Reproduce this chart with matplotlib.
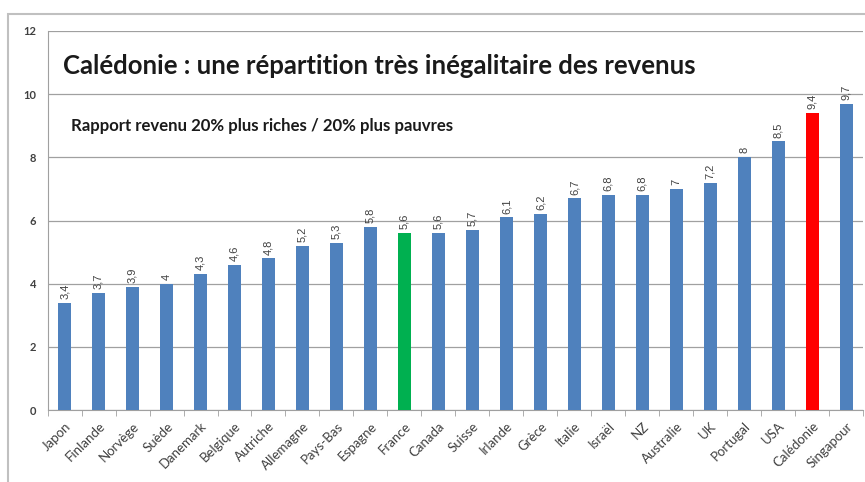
import matplotlib.pyplot as plt
import numpy as np
from matplotlib.patches import Rectangle

pays = ["Japon", "Finlande", "Norvège", "Suède", "Danemark", "Belgique", "Autriche",
        "Allemagne", "Pays-Bas", "Espagne", "France", "Canada", "Suisse", "Irlande",
        "Grèce", "Italie", "Israël", "NZ", "Australie", "UK", "Portugal", "USA",
        "Calédonie", "Singapour"]
valeurs = [3.4, 3.7, 3.9, 4, 4.3, 4.6, 4.8, 5.2, 5.3, 5.8, 5.6, 5.6, 5.7, 6.1,
           6.2, 6.7, 6.8, 6.8, 7, 7.2, 8, 8.5, 9.4, 9.7]
etiquettes = ["3,4", "3,7", "3,9", "4", "4,3", "4,6", "4,8", "5,2", "5,3", "5,8", "5,6",
              "5,6", "5,7", "6,1", "6,2", "6,7", "6,8", "6,8", "7", "7,2", "8", "8,5",
              "9,4", "9,7"]

couleurs = []
for p in pays:
    if p == "France":
        couleurs.append("#00B050")
    elif p == "Calédonie":
        couleurs.append("#FF0000")
    else:
        couleurs.append("#4F81BD")

plt.rcParams['font.family'] = ['Lato', 'DejaVu Sans']

fig = plt.figure(figsize=(8.65, 4.82), dpi=100)
ax = fig.add_axes([0.055, 0.149, 0.943, 0.787])

x = np.arange(len(pays))
ax.bar(x, valeurs, width=0.38, color=couleurs, zorder=3)

for xi, v, t in zip(x, valeurs, etiquettes):
    ax.text(xi, v + 0.12, t, rotation=90, ha="center", va="bottom",
            fontsize=8, color="#404040", family="Liberation Sans")

ax.set_ylim(0, 12)
ax.set_xlim(-0.5, len(pays) - 0.5)
ax.set_yticks(range(0, 13, 2))
ax.yaxis.grid(True, color="#A0A0A0", linewidth=0.9, zorder=0)
ax.tick_params(axis="y", length=0, labelsize=8, labelcolor="#404040", pad=8)
for lbl in ax.get_yticklabels():
    lbl.set_fontweight("bold")

ax.set_xticks(x)
ax.set_xticklabels(pays, rotation=45, ha="right", rotation_mode="anchor",
                   fontsize=9.5, color="#404040")
ax.tick_params(axis="x", which="major", length=0, pad=7)
ax.set_xticks(np.arange(-0.5, len(pays), 1), minor=True)
ax.tick_params(axis="x", which="minor", length=4, color="#A0A0A0")

for s in ["top", "right"]:
    ax.spines[s].set_visible(False)
ax.spines["left"].set_color("#A0A0A0")
ax.spines["bottom"].set_color("#A0A0A0")

ax.text(0.019, 0.885, "Calédonie : une répartition très inégalitaire des revenus",
        transform=ax.transAxes, fontsize=18.5, fontweight="bold", color="#1a1a1a")
ax.text(0.029, 0.735, "Rapport revenu 20% plus riches / 20% plus pauvres",
        transform=ax.transAxes, fontsize=12.1, fontweight="bold", color="#1a1a1a")

fig.patches.append(Rectangle((8 / 865, -0.05), 1.0, (482 - 14) / 482 + 0.05,
                             transform=fig.transFigure, fill=False,
                             edgecolor="#C0C0C0", linewidth=1.5))

fig.savefig("out.png", dpi=100)
